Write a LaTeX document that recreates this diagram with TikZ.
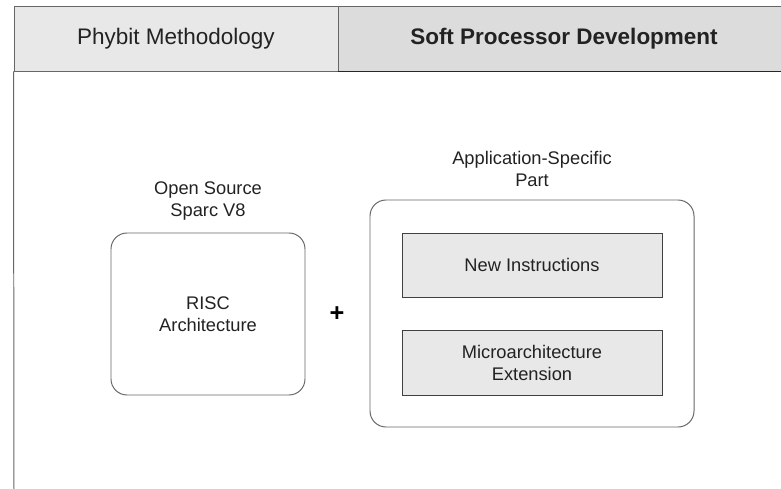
\documentclass[tikz,border=0pt]{standalone}
\usepackage{fontspec}
\setmainfont{Liberation Sans}
\usepackage{tikz}
\definecolor{tabgray}{HTML}{E8E8E8}
\definecolor{tabdark}{HTML}{DCDCDC}
\definecolor{linegray}{HTML}{666666}
\definecolor{textgray}{HTML}{222222}
\tikzstyle{Tab}=[minimum width=8.1cm, minimum height=1.625cm, inner sep=0pt, fill=tabgray, draw=linegray, line width=0.7pt, shape=rectangle, text=textgray, font=\fontsize{16}{19}\selectfont]
\tikzstyle{Block}=[inner sep=0pt, fill=white, draw=linegray, line width=0.7pt, shape=rectangle, rounded corners=0.4cm]
\tikzstyle{Part}=[minimum width=6.5cm, minimum height=1.6cm, inner sep=0pt, fill=tabgray, draw=black!75, line width=0.7pt, shape=rectangle, align=center, text=textgray, font=\fontsize{13}{15.6}\selectfont]
\tikzstyle{Label}=[align=center, text=textgray, font=\fontsize{13}{15.6}\selectfont]
\tikzstyle{frame}=[line width=0.7pt, draw=linegray]

\begin{document}
\begin{tikzpicture}
	\useasboundingbox (0, 0) rectangle (19.525, 12.2);
	% header
	\node [style=Tab] (methodology) at (4.4, 11.2375) {Phybit Methodology};
	\node [style=Tab, minimum width=11.3cm, fill=tabdark] (development) at (14.1, 11.2375) {\bfseries Soft Processor Development};
	\draw [line width=1.2pt, draw=black!85] (development.south west) -- (development.south east);
	\coordinate (frame_bottom) at (0.35, -0.2);
	\draw [style=frame] (methodology.south west) -- (frame_bottom);

	% base processor
	\node [style=Block, minimum width=4.85cm, minimum height=4.05cm, align=center, text=textgray, font=\fontsize{13}{15.6}\selectfont] (risc) at (5.2, 4.35) {RISC\\Architecture};
	\node [style=Label] (sparc) at (5.2, 7.175) {Open Source\\Sparc V8};
	\node [style=Label, text=black, font=\fontsize{18}{22}\selectfont\bfseries] (plus) at (8.425, 4.36) {+};

	% application-specific part
	\node [style=Block, minimum width=8.1cm, minimum height=5.675cm] (specific) at (13.3, 4.3625) {};
	\node [style=Label] (specific_label) at (13.3, 7.9875) {Application-Specific\\Part};
	\node [style=Part] (instructions) at (13.3, 5.575) {New Instructions};
	\node [style=Part, minimum height=1.625cm] (extension) at (13.3, 3.1375) {Microarchitecture\\Extension};
\end{tikzpicture}
\end{document}
